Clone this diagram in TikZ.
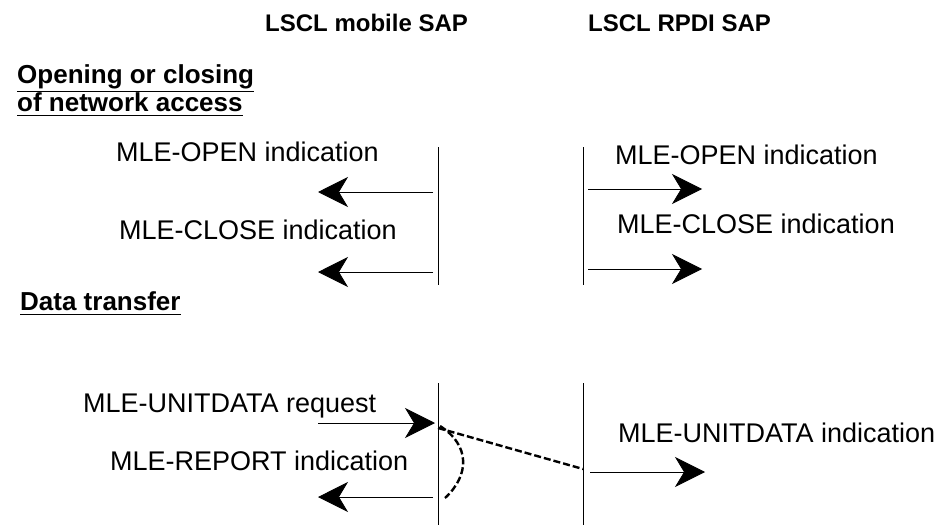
\documentclass[tikz,border=0pt]{standalone}
\usepackage{fontspec}
\setmainfont{Liberation Sans}
\usetikzlibrary{arrows.meta}
\newcommand{\ulText}[1]{\underline{#1\rule[-3pt]{0pt}{1pt}}}

\begin{document}
\begin{tikzpicture}[x=1pt, y=-1pt,
    every node/.style={font=\fontsize{27}{31}\selectfont, inner sep=0pt, anchor=base west},
    head/.style={font=\fontsize{24}{28}\selectfont\bfseries},
    sect/.style={font=\fontsize{26}{30}\selectfont\bfseries},
    life/.style={line width=0.8pt},
    arr/.style={-{Stealth[length=30pt, width=30pt, inset=9pt]}, line width=0.8pt},
    flow/.style={line width=2.4pt, dash pattern=on 7pt off 3pt}
]
\useasboundingbox (0,0) rectangle (943,527);

% column headers
\node (hMob) [head] at (265,32) {LSCL mobile SAP};
\node (hRpdi) [head] at (588,32) {LSCL RPDI SAP};

% section titles
\node (sOpen1) [sect] at (17,84) {\ulText{Opening or closing}};
\node (sOpen2) [sect] at (17,111) {\ulText{of network access}};
\node (sData) [sect] at (20,310) {\ulText{Data transfer}};

% lifelines
\coordinate (mTop1) at (438,147);
\coordinate (mBot1) at (438,285);
\coordinate (rTop1) at (583,147);
\coordinate (rBot1) at (583,285);
\coordinate (mTop2) at (438,383);
\coordinate (mBot2) at (438,525);
\coordinate (rTop2) at (583,383);
\coordinate (rBot2) at (583,525);
\draw[life] (mTop1) -- (mBot1);
\draw[life] (rTop1) -- (rBot1);
\draw[life] (mTop2) -- (mBot2);
\draw[life] (rTop2) -- (rBot2);

% opening / closing
\node (lOpenM) at (116,161) {MLE-OPEN indication};
\node (lCloseM) at (119,239) {MLE-CLOSE indication};
\node (lOpenR) at (615,164) {MLE-OPEN indication};
\node (lCloseR) at (617,233) {MLE-CLOSE indication};

\coordinate (openMa) at (433,192);
\coordinate (openMb) at (318,192);
\coordinate (closeMa) at (433,272);
\coordinate (closeMb) at (318,272);
\coordinate (openRa) at (588,189);
\coordinate (openRb) at (702,189);
\coordinate (closeRa) at (588,269);
\coordinate (closeRb) at (702,269);
\draw[arr] (openMa) -- (openMb);
\draw[arr] (closeMa) -- (closeMb);
\draw[arr] (openRa) -- (openRb);
\draw[arr] (closeRa) -- (closeRb);

% data transfer
\node (lReq) at (83,412) {MLE-UNITDATA request};
\node (lRep) at (110,470) {MLE-REPORT indication};
\node (lInd) at (618,442) {MLE-UNITDATA indication};

\coordinate (reqA) at (318,423);
\coordinate (reqB) at (435,423);
\coordinate (repA) at (433,497);
\coordinate (repB) at (318,497);
\coordinate (indA) at (590,472);
\coordinate (indB) at (705,472);
\draw[arr] (reqA) -- (reqB);
\draw[arr] (repA) -- (repB);
\draw[arr] (indA) -- (indB);

\coordinate (fStart) at (438,428);
\coordinate (fEnd) at (583,469);
\coordinate (cStart) at (440,426);
\coordinate (cEnd) at (445,498);
\draw[flow] (fStart) -- (fEnd);
\draw[flow] (cStart) .. controls (470,445) and (470,475) .. (cEnd);

\end{tikzpicture}
\end{document}
